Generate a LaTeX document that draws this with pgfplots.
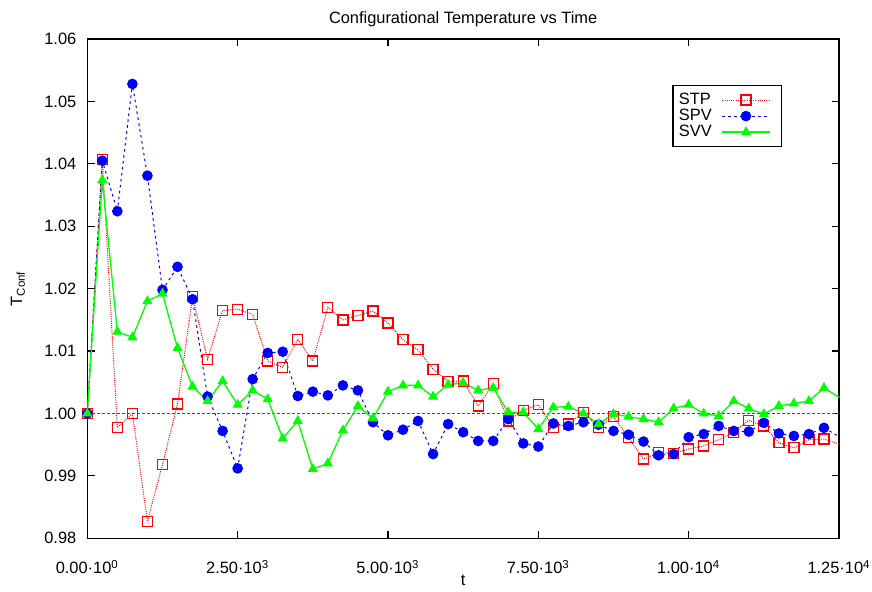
\documentclass[border=0pt]{standalone}
\usepackage{fontspec}
\setmainfont{Liberation Sans}
\usepackage{pgfplots}
\usepackage{pgfplotstable}
\pgfplotsset{compat=1.18}
\newcommand{\cf}{\fontsize{8.2}{9.8}\selectfont}
\pgfplotstableread{
x stp spv svv
0 1.0000 1.0000 1.0000
250 1.0407 1.0405 1.0374
500 0.9977 1.0324 1.0131
750 1.0000 1.0528 1.0122
1000 0.9827 1.0381 1.0180
1250 0.9918 1.0198 1.0192
1500 1.0015 1.0235 1.0105
1750 1.0187 1.0183 1.0043
2000 1.0087 1.0027 1.0020
2250 1.0165 0.9972 1.0052
2500 1.0167 0.9912 1.0014
2750 1.0159 1.0055 1.0037
3000 1.0084 1.0097 1.0023
3250 1.0074 1.0099 0.9960
3500 1.0119 1.0028 0.9988
3750 1.0084 1.0035 0.9911
4000 1.0170 1.0029 0.9920
4250 1.0150 1.0045 0.9973
4500 1.0157 1.0037 1.0012
4750 1.0164 0.9986 0.9992
5000 1.0145 0.9965 1.0035
5250 1.0118 0.9974 1.0045
5500 1.0102 0.9988 1.0045
5750 1.0071 0.9935 1.0027
6000 1.0051 0.9983 1.0046
6250 1.0052 0.9970 1.0049
6500 1.0012 0.9956 1.0037
6750 1.0048 0.9956 1.0041
7000 0.9988 0.9991 1.0002
7250 1.0005 0.9952 1.0002
7500 1.0014 0.9947 0.9975
7750 0.9978 0.9984 1.0010
8000 0.9983 0.9980 1.0011
8250 1.0002 0.9986 1.0000
8500 0.9977 0.9982 0.9983
8750 0.9995 0.9972 0.9999
9000 0.9961 0.9966 0.9995
9250 0.9927 0.9955 0.9991
9500 0.9937 0.9933 0.9986
9750 0.9936 0.9935 1.0008
10000 0.9943 0.9962 1.0014
10250 0.9948 0.9967 1.0000
10500 0.9958 0.9980 0.9996
10750 0.9970 0.9972 1.0020
11000 0.9989 0.9971 1.0008
11250 0.9980 0.9985 0.9999
11500 0.9953 0.9968 1.0012
11750 0.9945 0.9964 1.0016
12000 0.9958 0.9967 1.0020
12250 0.9959 0.9977 1.0041
12750 0.9943 0.9949 1.0011
}\datatable
\begin{document}
\begin{tikzpicture}
\path[use as bounding box] (-43.65pt,-26.85pt) rectangle (392.35pt,269.15pt);
\begin{axis}[
  at={(0,0)}, anchor=south west,
  scale only axis, width=375.85pt, height=249.65pt,
  xmin=0, xmax=12500, ymin=0.98, ymax=1.06,
  scaled x ticks=false, scaled y ticks=false,
  xtick={0,2500,5000,7500,10000,12500},
  xticklabels={0.00·10\textsuperscript{0},2.50·10\textsuperscript{3},5.00·10\textsuperscript{3},7.50·10\textsuperscript{3},1.00·10\textsuperscript{4},1.25·10\textsuperscript{4}},
  ytick={0.98,0.99,1.00,1.01,1.02,1.03,1.04,1.05,1.06},
  yticklabels={0.98,0.99,1.00,1.01,1.02,1.03,1.04,1.05,1.06},
  tick align=inside, major tick length=3.7pt, minor tick num=0,
  axis line style={line width=0.65pt},
  every tick/.style={black, line width=0.6pt},
  xticklabel style={font=\cf, anchor=base, inner sep=0pt, yshift=-17.85pt},
  yticklabel style={font=\cf, anchor=east, inner sep=0pt, xshift=-5.3pt},
  title={Configurational Temperature vs Time},
  every axis title/.style={font=\cf, at={(0.5,1)}, anchor=base, inner sep=0pt, yshift=7.5pt},
  xlabel={t},
  xlabel style={font=\cf, at={(axis description cs:0.5,0)}, anchor=base, inner sep=0pt, yshift=-23.6pt},
  ylabel={T\textsubscript{Conf}},
  ylabel style={font=\cf, at={(axis description cs:-0.0922,0.5)}, anchor=center, inner sep=0pt, rotate=0},
  legend plot pos=right, legend cell align=left,
  legend image code/.code={\draw[#1,mark=none] (0pt,0pt) -- (23.6pt,0pt); \draw[#1] plot coordinates {(11.8pt,0pt)}; \path (26.1pt,0pt);},
  legend style={at={(axis description cs:0,1)}, anchor=north west, xshift=292.5pt, yshift=-23pt,
    draw=black, line width=0.6pt, inner xsep=3pt, inner ysep=3.25pt, row sep=0pt, font=\cf,
    nodes={inner sep=0pt, minimum height=8pt},
    /tikz/every odd column/.append style={column sep=5pt}},
]
\addplot[forget plot, black!70, line width=0.7pt, dash pattern=on 1.2pt off 1.3pt] coordinates {(0,1) (12500,1)};
\addplot[red, line width=0.5pt, dash pattern=on 0.5pt off 0.6pt, mark=square, mark size=2.5pt, mark indices={1,...,50}, mark options={solid, draw=red, fill=none, line width=0.65pt}] table[x=x, y=stp] {\datatable};
\addlegendentry{STP}
\addplot[blue, line width=0.5pt, dash pattern=on 1.3pt off 1.7pt, mark=*, mark size=2.4pt, mark indices={1,...,50}, mark options={solid, draw=blue, fill=blue}] table[x=x, y=spv] {\datatable};
\addlegendentry{SPV}
\addplot[green, line width=0.65pt, mark=triangle*, mark size=2.3pt, mark indices={1,...,50}, mark options={solid, draw=green, fill=green}] table[x=x, y=svv] {\datatable};
\addlegendentry{SVV}
\end{axis}
\end{tikzpicture}
\end{document}
